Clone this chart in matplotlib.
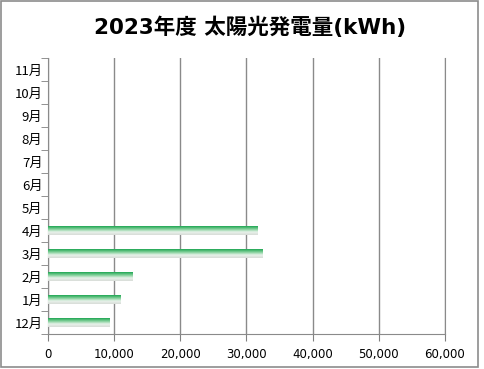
import matplotlib.pyplot as plt
import numpy as np
from matplotlib.patches import Rectangle
from matplotlib.colors import LinearSegmentedColormap

plt.rcParams['font.family'] = ['Noto Sans CJK JP', 'DejaVu Sans']

months = ["12月", "1月", "2月", "3月", "4月", "5月", "6月", "7月", "8月", "9月", "10月", "11月"]
kwh = [9300, 11000, 12800, 32400, 31700, 0, 0, 0, 0, 0, 0, 0]
xticks = [0, 10000, 20000, 30000, 40000, 50000, 60000]

fig = plt.figure(figsize=(4.85, 3.69), dpi=100)
# gray frame round the whole chart
fig.patches.append(Rectangle((0.002, 0.006), 0.984, 0.99, transform=fig.transFigure,
                             fill=False, edgecolor='#8c8c8c', linewidth=1.2))
ax = fig.add_axes([48/485, 1 - 334/369, 397/485, 276/369])

y = np.arange(len(months))
bh = 0.38
# green-to-white vertical gradient for each bar
grad = np.linspace(0, 1, 64).reshape(-1, 1)
cmap = LinearSegmentedColormap.from_list('g', ['#1fa653', '#7fcf97', '#e8f2ea', '#d8dcd8'])
for yi, v in zip(y, kwh):
    if v <= 0:
        continue
    bars = ax.barh(yi, v, height=bh, color='none', edgecolor='none')
    im = ax.imshow(grad, cmap=cmap, aspect='auto',
                   extent=[0, v, yi - bh/2, yi + bh/2], origin='upper', zorder=3)
    im.set_clip_path(bars[0])

ax.set_xlim(0, 60000)
ax.set_ylim(-0.5, len(months) - 0.5)
ax.set_xticks(xticks)
ax.set_xticklabels([f"{t:,}" for t in xticks], fontsize=8.5, family=['DejaVu Sans'])
ax.set_yticks(y)
ax.set_yticklabels(months, fontsize=9.5)
ax.set_yticks(np.arange(-0.5, len(months), 1), minor=True)
ax.tick_params(axis='y', which='major', length=0, pad=4)
ax.tick_params(axis='y', which='minor', length=5, color='#808080', direction='out')
ax.tick_params(axis='x', length=5, color='#808080', pad=5)
ax.grid(axis='x', color='#8a8a8a', linewidth=1)
ax.set_axisbelow(True)
ax.spines['top'].set_visible(False)
for s in ['left', 'bottom', 'right']:
    ax.spines[s].set_color('#8a8a8a')

fig.text(0.515, 0.925, "2023年度 太陽光発電量(kWh)", ha='center', va='center',
         fontsize=15.5, fontweight='bold', family=['DejaVu Sans', 'Noto Sans CJK JP'])

fig.savefig("out.png", dpi=100)
